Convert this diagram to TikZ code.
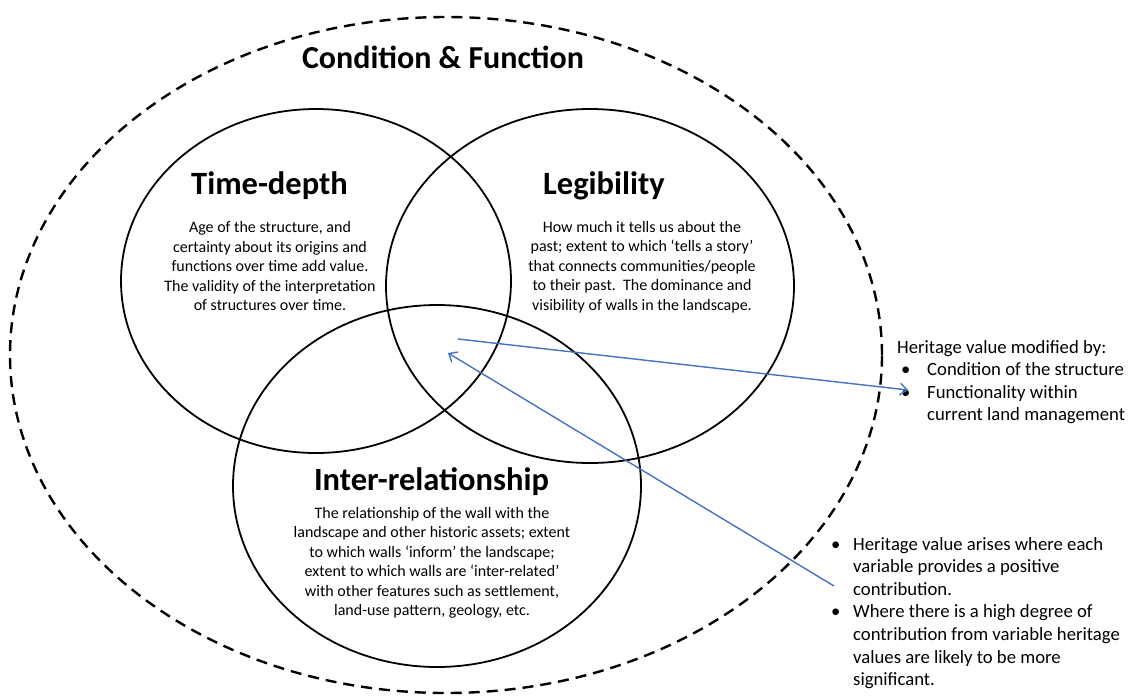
\documentclass[tikz,border=0pt]{standalone}
\usepackage{fontspec}
\setmainfont{Carlito}
\usetikzlibrary{shapes.geometric,arrows.meta}
\definecolor{arrowblue}{RGB}{68,114,196}
\tikzset{
  venn/.style={ellipse, draw=black, line width=1.8pt, inner sep=0pt, outer sep=0pt},
  outer/.style={ellipse, draw=black, line width=2.4pt, dash pattern=on 11pt off 7pt, inner sep=0pt},
  head/.style={font=\fontsize{32.5}{38}\selectfont\bfseries, inner sep=0pt},
  body/.style={font=\fontsize{16}{19.5}\selectfont, align=center, inner sep=0pt},
  side/.style={font=\fontsize{18.7}{22.6}\selectfont, align=left, inner sep=0pt, anchor=north west},
  link/.style={draw=arrowblue, line width=1.4pt, -{Straight Barb[length=7pt,width=12pt,line width=1.4pt]}}
}
\newcommand{\bulA}{\hspace{4pt}\makebox[26pt][l]{\textbullet}}
\newcommand{\gapA}{\hspace{4pt}\makebox[26pt][l]{}}
\newcommand{\bulB}{\makebox[22pt][l]{\textbullet}}
\newcommand{\gapB}{\makebox[22pt][l]{}}
\begin{document}
\begin{tikzpicture}[x=1pt,y=-1pt]
\useasboundingbox (0,0) rectangle (1131,697);
% outer dashed ellipse
\node[outer, minimum width=872pt, minimum height=676pt] (cf) at (446,355) {};
% venn circles
\node[venn, minimum width=390pt, minimum height=344pt] (td) at (316,281) {};
\node[venn, minimum width=408pt, minimum height=354pt] (lg) at (590,286) {};
\node[venn, minimum width=408pt, minimum height=362pt] (ir) at (437,486) {};
% title
\node[font=\fontsize{32}{38}\selectfont\bfseries, inner sep=0pt] (title) at (443,57) {Condition \& Function};
% headings
\node[head] (tdh) at (269.5,186) {Time-depth};
\node[head] (lgh) at (604,186) {Legibility};
\node[head] (irh) at (431.5,482) {Inter-relationship};
% bodies
\node[body] (tdb) at (270,266) {Age of the structure, and\\certainty about its origins and\\functions over time add value.\\The validity of the interpretation\\of structures over time.};
\node[body] (lgb) at (642,267) {How much it tells us about the\\past; extent to which ‘tells a story’\\that connects communities/people\\to their past.\ \ The dominance and\\visibility of walls in the landscape.};
\node[body] (irb) at (432,563) {The relationship of the wall with the\\landscape and other historic assets; extent\\to which walls ‘inform’ the landscape;\\extent to which walls are ‘inter-related’\\with other features such as settlement,\\land-use pattern, geology, etc.};
% side texts
\node[side] (mod) at (897,340) {Heritage value modified by:\\
\bulA Condition of the structure\\
\bulA Functionality within\\
\gapA current land management};
\node[side] (ari) at (831,537) {\bulB Heritage value arises where each\\
\gapB variable provides a positive\\
\gapB contribution.\\
\bulB Where there is a high degree of\\
\gapB contribution from variable heritage\\
\gapB values are likely to be more\\
\gapB significant.};
% arrows
\coordinate (a1s) at (458,339);
\coordinate (a1e) at (908,390);
\coordinate (a2s) at (834,586);
\coordinate (a2e) at (448,353);
\draw[link] (a1s) -- (a1e);
\draw[link] (a2s) -- (a2e);
\end{tikzpicture}
\end{document}
